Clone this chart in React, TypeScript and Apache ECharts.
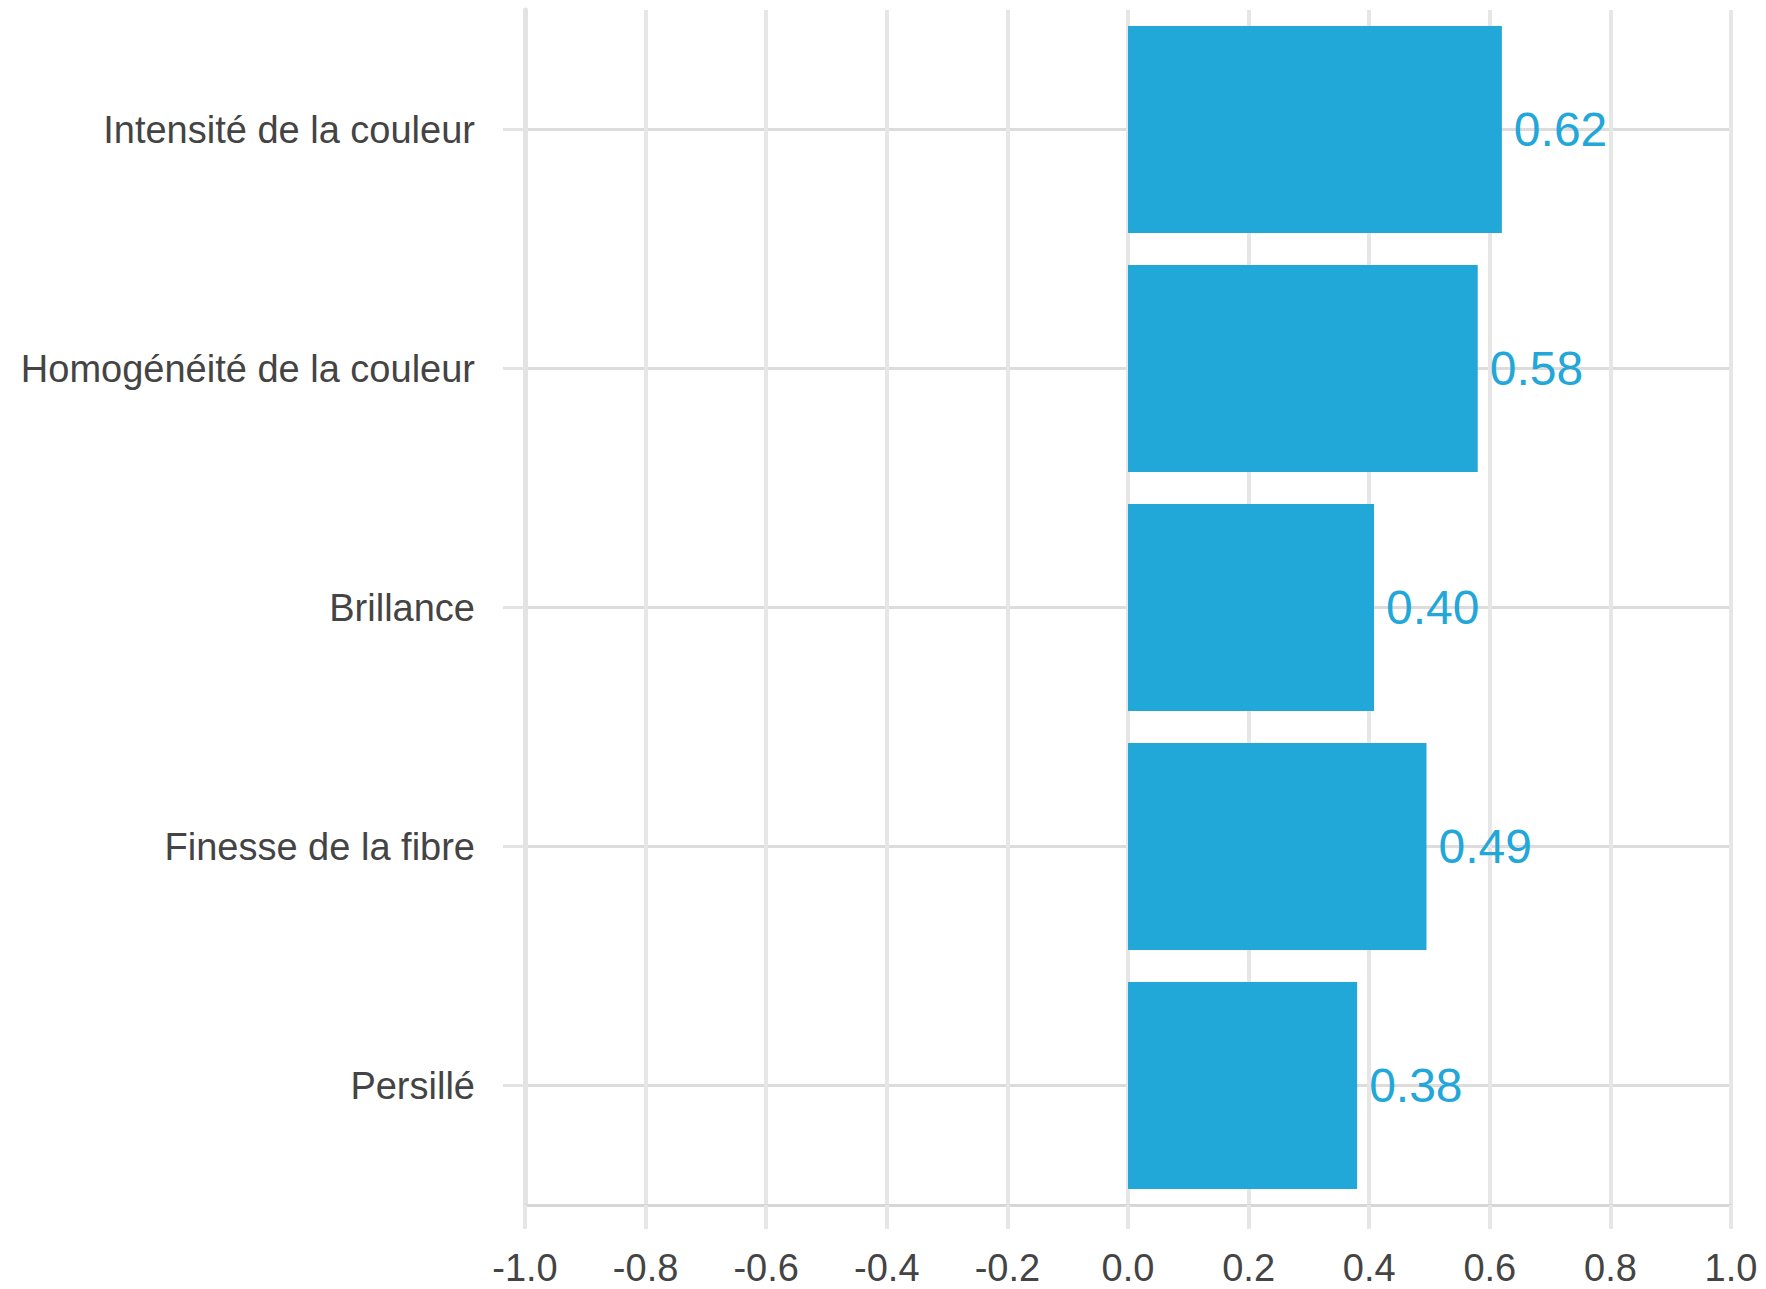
import React, { useEffect, useRef } from "react";
import * as echarts from "echarts";

const categories = [
  "Intensité de la couleur",
  "Homogénéité de la couleur",
  "Brillance",
  "Finesse de la fibre",
  "Persillé",
];
const values = [0.62, 0.58, 0.408, 0.495, 0.38];
const valueLabels = ["0.62", "0.58", "0.40", "0.49", "0.38"];
const xTicks = { min: -1, max: 1, interval: 0.2 };

export default function App() {
  const ref = useRef<HTMLDivElement>(null);
  useEffect(() => {
    if (!ref.current) return;
    const chart = echarts.init(ref.current, null, { renderer: "svg" });
    const font = "'Liberation Sans', Arial, Helvetica, sans-serif";
    chart.setOption({
      animation: false,
      backgroundColor: "#ffffff",
      grid: { left: 525, right: 35, top: 10, bottom: 84, containLabel: false },
      xAxis: {
        type: "value",
        min: xTicks.min,
        max: xTicks.max,
        interval: xTicks.interval,
        axisLine: { show: true, onZero: false, lineStyle: { color: "#d6d6d6", width: 3 } },
        axisTick: { show: true, length: 24, lineStyle: { color: "#e6e6e6", width: 4 } },
        splitLine: { show: true, lineStyle: { color: "#e6e6e6", width: 4 } },
        axisLabel: {
          margin: 44,
          fontSize: 38,
          color: "#444444",
          fontFamily: font,
          formatter: (v: number) => v.toFixed(1),
        },
      },
      yAxis: {
        type: "category",
        data: categories,
        inverse: true,
        axisLine: { show: true, onZero: false, lineStyle: { color: "#e3e3e3", width: 5 } },
        axisTick: { show: true, alignWithLabel: true, length: 22, lineStyle: { color: "#e3e3e3", width: 3 } },
        splitLine: { show: true, alignWithLabel: true, lineStyle: { color: "#dcdcdc", width: 3 } },
        axisLabel: {
          margin: 50,
          fontSize: 38,
          color: "#444444",
          fontFamily: font,
        },
      },
      series: [
        {
          type: "bar",
          data: values,
          barCategoryGap: "13.4%",
          itemStyle: { color: "#21a7d8" },
          label: {
            show: true,
            position: "right",
            distance: 12,
            fontSize: 48,
            color: "#22a7d8",
            fontFamily: font,
            formatter: (p: any) => valueLabels[p.dataIndex],
          },
        },
      ],
    });
    return () => chart.dispose();
  }, []);
  return (
    <div
      ref={ref}
      style={{ position: "fixed", left: 0, top: 0, width: 1766, height: 1289 }}
    />
  );
}
